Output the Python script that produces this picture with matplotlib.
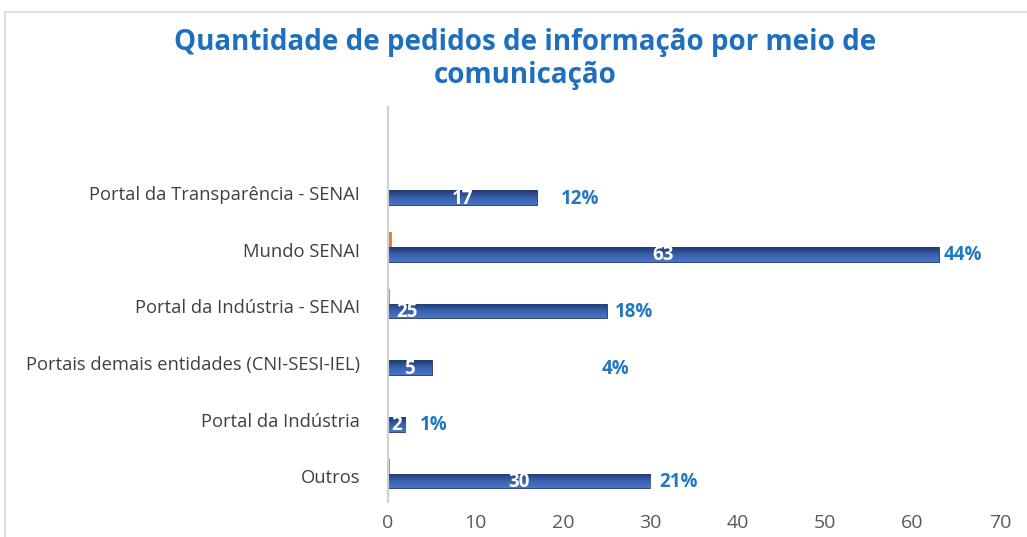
import numpy as np
import matplotlib
matplotlib.use("Agg")
import matplotlib.pyplot as plt
from matplotlib.patches import Rectangle
from matplotlib.colors import LinearSegmentedColormap

# data (bottom to top)
categories = ["Outros", "Portal da Indústria", "Portais demais entidades (CNI-SESI-IEL)",
              "Portal da Indústria - SENAI", "Mundo SENAI", "Portal da Transparência - SENAI"]
counts = [30, 2, 5, 25, 63, 17]
shares = [0.21, 0.01, 0.04, 0.18, 0.44, 0.12]
share_labels = ["21%", "1%", "4%", "18%", "44%", "12%"]

# label placement (layout only)
count_pos = ["center", "center", "center", "base", "center", "center"]
share_offset = [3.2, 3.2, 21.0, 3.1, 2.8, 5.0]

plt.rcParams['font.family'] = ['Open Sans', 'DejaVu Sans']

fig = plt.figure(figsize=(10.27, 5.37), dpi=100)
fig.patches.append(Rectangle((5 / 1027, -0.1), 1.2, 1.1 - 12 / 537, transform=fig.transFigure,
                             fill=False, edgecolor="#d9d9d9", linewidth=1.2))

ax = fig.add_axes([388 / 1027, 1 - 502 / 537, 612 / 1027, 395 / 537])

y = np.arange(len(categories))
h = 0.26
cmap = LinearSegmentedColormap.from_list("bar", ["#4a76c6", "#3860ad", "#1f3a70"])

blue = ax.barh(y - h / 2, counts, height=h, color="#3359a6", edgecolor="#1f3864", linewidth=0.6, zorder=2)
ax.barh(y + h / 2, shares, height=h, color="#ed7d31", zorder=2)

# gradient fill on the blue bars
grad = np.linspace(0, 1, 64).reshape(-1, 1)
for b in blue:
    x0, y0, w, hh = b.get_x(), b.get_y(), b.get_width(), b.get_height()
    im = ax.imshow(grad, cmap=cmap, aspect="auto", extent=(x0, x0 + w, y0, y0 + hh),
                   origin="lower", zorder=2.5)
    im.set_clip_path(b)

for i, b in enumerate(blue):
    yc = b.get_y() + b.get_height() / 2 - 0.02
    if count_pos[i] == "base":
        ax.text(1.0, yc, str(counts[i]), color="white", fontsize=13.5, fontweight="bold",
                ha="left", va="center", zorder=3)
    else:
        ax.text(counts[i] / 2, yc, str(counts[i]), color="white", fontsize=13.5, fontweight="bold",
                ha="center", va="center", zorder=3)
    ax.text(counts[i] + share_offset[i], yc, share_labels[i], color="#1f78c1", fontsize=13.5,
            fontweight="bold", ha="center", va="center", zorder=3)

ax.set_xlim(0, 70)
ax.set_ylim(-0.5, 6.47)
ax.set_xticks(range(0, 71, 10))
ax.set_yticks(y - 0.05)
ax.set_yticklabels(categories, fontsize=13.2, color="#404040")
ax.tick_params(axis="y", length=0, pad=20)
ax.tick_params(axis="x", length=0, labelsize=14, labelcolor="#595959", pad=9)
for s in ["top", "right", "bottom"]:
    ax.spines[s].set_visible(False)
ax.spines["left"].set_color("#d0d0d0")
ax.spines["left"].set_linewidth(1.5)

fig.text(0.511, 0.89, "Quantidade de pedidos de informação por meio de\ncomunicação",
         ha="center", va="center", fontsize=20, fontweight="bold", color="#1f6fbf",
         linespacing=1.15)

fig.savefig("out.png", dpi=100)
